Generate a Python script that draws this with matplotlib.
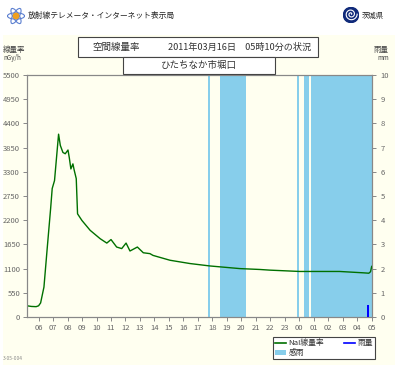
import matplotlib.pyplot as plt
import numpy as np
from matplotlib.patches import Rectangle, Ellipse, Circle, Patch
from matplotlib.lines import Line2D

plt.rcParams['font.family'] = ['Noto Sans CJK JP', 'DejaVu Sans']

# 線量率 (nGy/h), 時刻は 3/15 0時からの時間 (24以降は翌日)
hours = [5.2, 5.5, 5.83, 6.0, 6.14, 6.37, 6.6, 6.83, 6.94, 7.1,
         7.38, 7.5, 7.68, 7.84, 8.03, 8.12, 8.23, 8.37, 8.45, 8.6,
         8.69, 8.99, 9.56, 10.25, 10.71, 11.0, 11.39, 11.74, 12.04, 12.31,
         12.82, 13.23, 13.69, 13.9, 15.07, 16.45, 17.83, 19.9, 21.28, 21.97,
         24.03, 25.6, 26.78, 28.37, 28.6, 28.8, 28.92, 29.0]
dose = [255, 240, 235, 255, 320, 680, 1580, 2460, 2920, 3100,
        4155, 3900, 3740, 3710, 3795, 3620, 3365, 3480, 3350, 3145,
        2345, 2195, 1970, 1780, 1680, 1760, 1590, 1555, 1680, 1500,
        1590, 1460, 1440, 1400, 1290, 1215, 1160, 1100, 1080, 1065,
        1035, 1035, 1035, 1005, 1000, 995, 1030, 1150]

# 感雨の期間
sense_start = [17.7, 18.53, 23.86, 24.3, 24.82]
sense_end = [17.85, 20.32, 24.0, 24.68, 29.0]

# 雨量 (mm)
rain_time = [28.73]
rain_mm = [0.5]

xticks = list(range(6, 30))
xlabels = ['%02d' % (h % 24) for h in xticks]
dose_ticks = list(range(0, 5501, 550))
rain_ticks = list(range(0, 11))

W, H = 400, 377
cream = '#fffff0'
gray = '#666666'


def fx(px):
	return px / W


def fy(py):
	return 1 - py / H


fig = plt.figure(figsize=(4, 3.77), dpi=100)
fig.patch.set_facecolor('white')
fig.add_artist(Rectangle((fx(3), fy(365)), (395 - 3) / W, (365 - 35) / H,
                         transform=fig.transFigure, facecolor=cream, edgecolor='none', zorder=-5))

ax = fig.add_axes([fx(27), fy(317), (372 - 27) / W, (317 - 75) / H])
ax.set_facecolor(cream)
for s, e in zip(sense_start, sense_end):
	ax.axvspan(s, e, color='#87ceeb', lw=0, zorder=1)
ax.plot(hours, dose, color='#007000', lw=1, zorder=3)
ax.set_xlim(5.2, 29.02)
ax.set_ylim(0, 5500)
ax.set_xticks(xticks)
ax.set_xticklabels(xlabels)
ax.set_yticks(dose_ticks)
ax.tick_params(direction='out', length=3, width=0.7, colors='#888888',
               labelcolor=gray, labelsize=5.5, pad=2)

ax2 = ax.twinx()
ax2.bar(rain_time, rain_mm, width=0.1, color='#0000ff', zorder=4)
ax2.set_ylim(0, 10)
ax2.set_yticks(rain_ticks)
ax2.tick_params(direction='out', length=3, width=0.7, colors='#888888',
                labelcolor=gray, labelsize=5.5, pad=3)
for a in (ax, ax2):
	for sp in a.spines.values():
		sp.set_color('#888888')
		sp.set_linewidth(0.8)

# タイトル枠
fig.add_artist(Rectangle((fx(78), fy(57)), 240 / W, 20 / H, transform=fig.transFigure,
                         facecolor='white', edgecolor='#444444', lw=0.8, zorder=5))
fig.text(fx(116), fy(47), '空間線量率', ha='center', va='center', fontsize=6.8, color='#333333', zorder=6)
fig.text(fx(240), fy(47), '2011年03月16日　05時10分の状況', ha='center', va='center',
         fontsize=6.6, color='#333333', zorder=6)
fig.add_artist(Rectangle((fx(123), fy(74)), 152 / W, 17 / H, transform=fig.transFigure,
                         facecolor='white', edgecolor='#444444', lw=0.8, zorder=5))
fig.text(fx(199), fy(65.5), 'ひたちなか市堀口', ha='center', va='center', fontsize=6.8, color='#333333', zorder=6)

# 単位
fig.text(fx(3), fy(50), '線量率', ha='left', va='center', fontsize=5.4, color='#444444')
fig.text(fx(3), fy(58), 'nGy/h', ha='left', va='center', fontsize=4.5, color='#444444')
fig.text(fx(389), fy(50), '雨量', ha='right', va='center', fontsize=5.4, color='#444444')
fig.text(fx(389), fy(58), 'mm', ha='right', va='center', fontsize=4.5, color='#444444')

# ヘッダー
fig.text(fx(28), fy(16), '放射線テレメータ・インターネット表示局', ha='left', va='center',
         fontsize=5.6, color='#222222')
fig.text(fx(362), fy(16), '茨城県', ha='left', va='center', fontsize=5.3, color='#222222')

logo = fig.add_axes([fx(7), fy(25), 18 / W, 18 / H])
logo.set_xlim(-1, 1)
logo.set_ylim(-1, 1)
logo.axis('off')
for ang in (0, 60, 120):
	logo.add_patch(Ellipse((0, 0), 1.9, 0.7, angle=ang, fill=False, edgecolor='#5b7fd0', lw=0.8))
logo.add_patch(Circle((0, 0), 0.3, color='#f0a020'))

logo2 = fig.add_axes([fx(343), fy(23), 16 / W, 16 / H])
logo2.set_xlim(-1, 1)
logo2.set_ylim(-1, 1)
logo2.axis('off')
logo2.add_patch(Circle((0, 0), 0.95, color='#102a7a'))
t = np.linspace(0, 4 * np.pi, 100)
r = 0.08 + 0.055 * t
logo2.plot(r * np.cos(t), r * np.sin(t) + 0.1, color='white', lw=0.8)

# 凡例
handles = [Line2D([], [], color='#007000', lw=1.2),
           Patch(facecolor='#87ceeb', edgecolor='none'),
           Line2D([], [], color='#0000ff', lw=1.2)]
labels = ['NaI線量率', '感雨', '雨量']
leg = fig.legend(handles, labels, ncol=2, loc='upper left', bbox_to_anchor=(fx(273), fy(337)),
                 fontsize=5.6, frameon=True, fancybox=False, edgecolor='#444444',
                 facecolor='white', framealpha=1, handlelength=1.4, handleheight=0.7,
                 handletextpad=0.3, columnspacing=2.6, labelspacing=0.2, borderpad=0.3,
                 borderaxespad=0)
leg.get_frame().set_linewidth(0.8)
for txt in leg.get_texts():
	txt.set_color('#333333')

fig.text(fx(3), fy(358), '3-05-004', ha='left', va='center', fontsize=3.5, color='#888888')

plt.savefig('out.png', dpi=100)
